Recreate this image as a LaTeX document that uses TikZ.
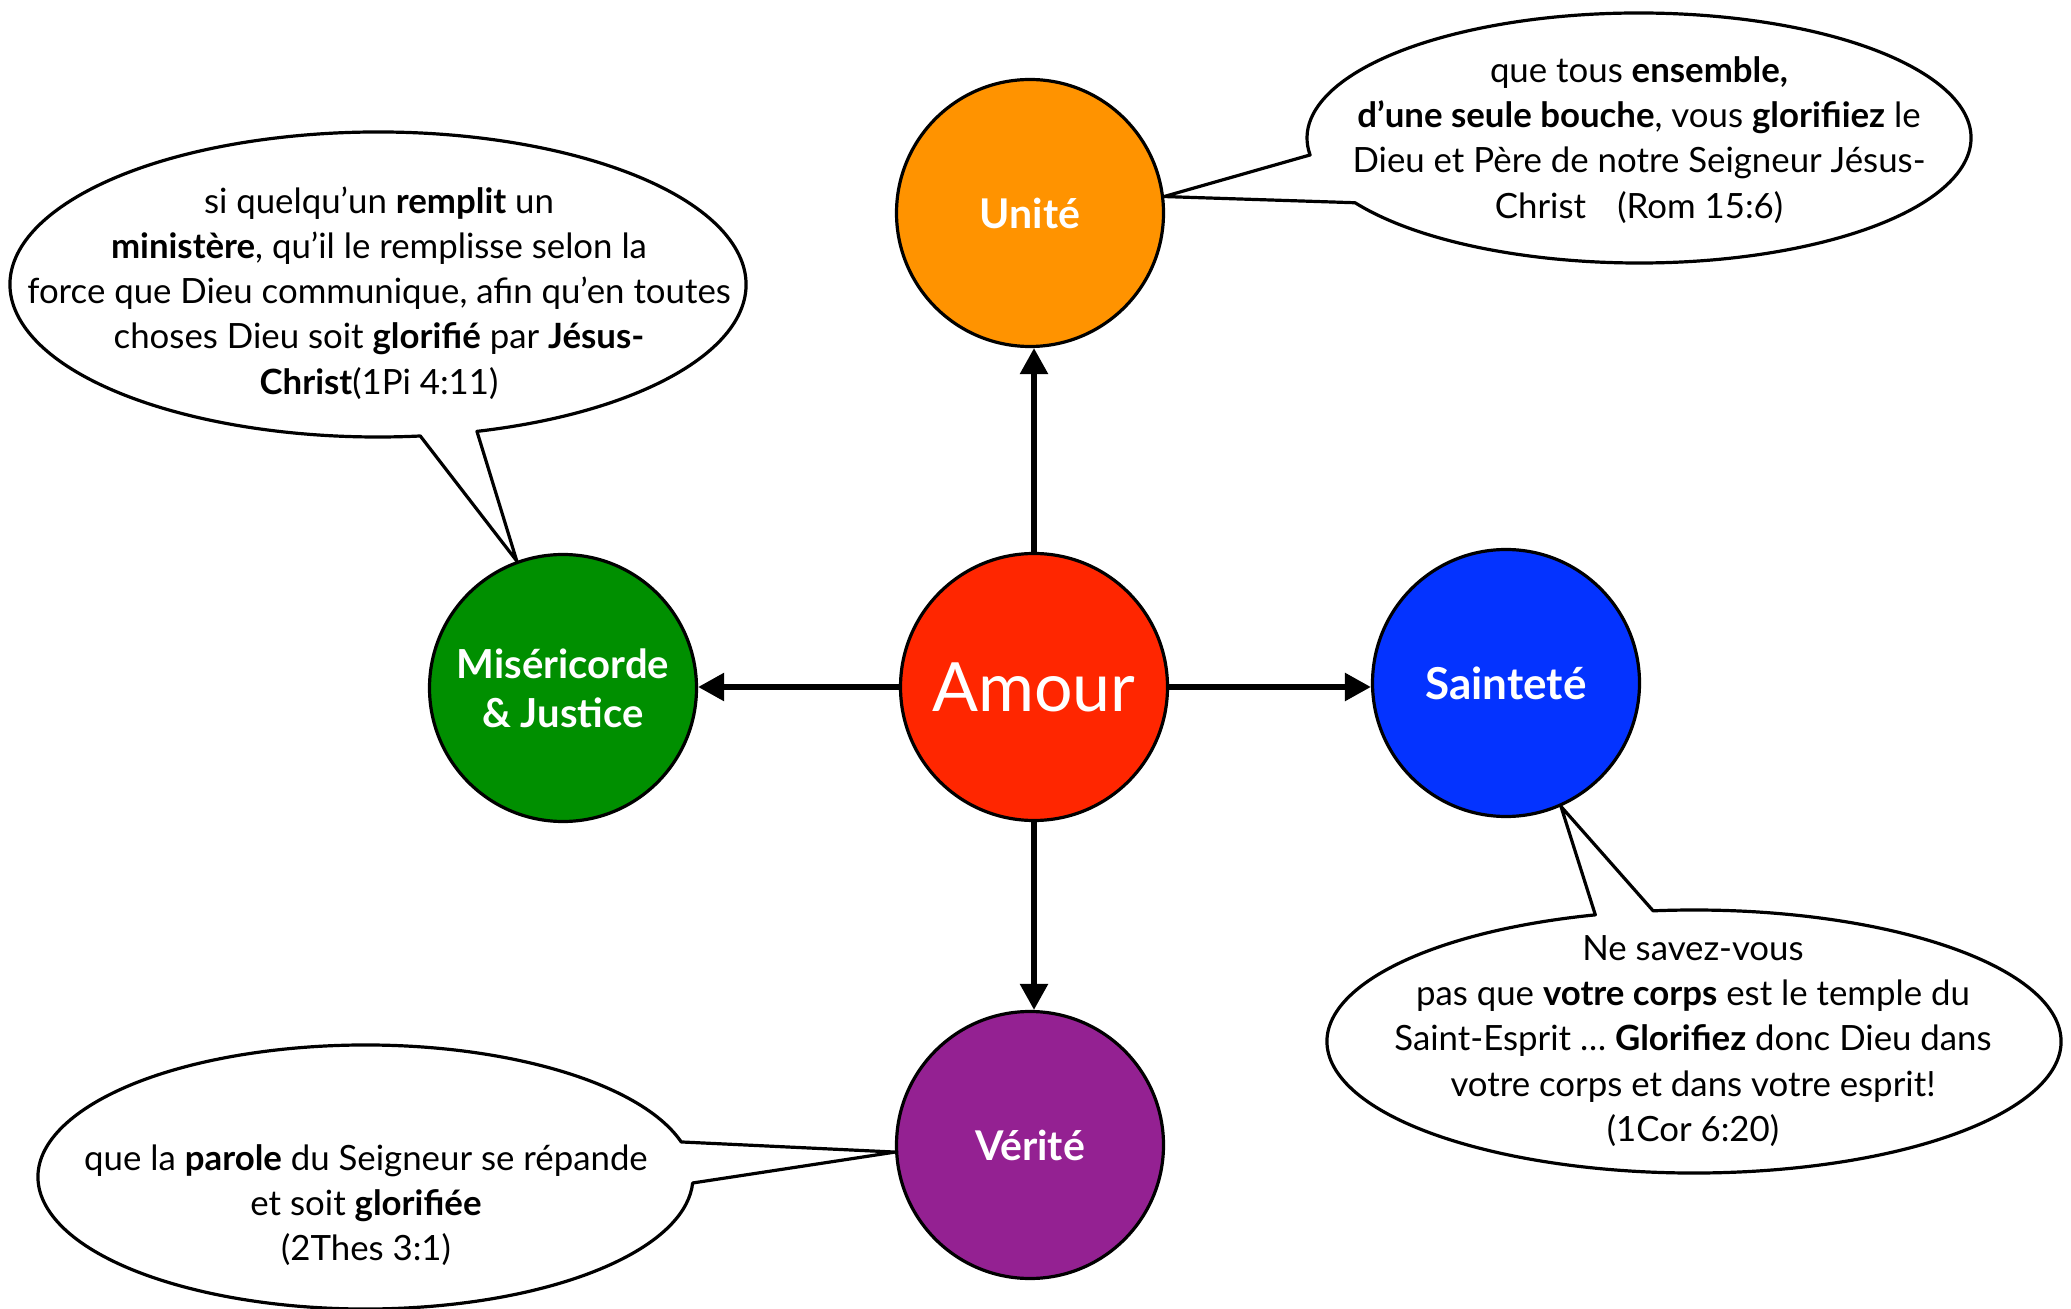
\documentclass[tikz,border=0pt]{standalone}
\usepackage{fontspec}
\setmainfont{Lato}
\usetikzlibrary{arrows.meta,backgrounds}
\definecolor{cOrange}{RGB}{255,147,0}
\definecolor{cRed}{RGB}{255,38,0}
\definecolor{cGreen}{RGB}{0,143,0}
\definecolor{cBlue}{RGB}{4,51,255}
\definecolor{cPurple}{RGB}{148,33,146}
\begin{document}
\begin{tikzpicture}[x=0.5pt,y=-0.5pt,
  virtue/.style={circle, draw=black, line width=1.6pt, minimum size=133.5pt, inner sep=0pt,
    text=white, font=\bfseries\fontsize{20.5}{24.5}\selectfont, align=center},
  link/.style={line width=2.8pt, -{Triangle[length=13pt,width=13.5pt]}},
  bubble/.style={draw=black, fill=white, line width=1.6pt, line join=round},
  verse/.style={align=center, font=\fontsize{17.4}{22.6}\selectfont, inner sep=0pt}]
\useasboundingbox (0,0) rectangle (2071,1309);

% virtues
\node[virtue, fill=cRed, font=\fontsize{34}{40}\selectfont] (amour) at (1034,687) {Amour};
\node[virtue, fill=cOrange] (unite) at (1030,213) {Unité};
\node[virtue, fill=cGreen, font=\bfseries\fontsize{20}{24.5}\selectfont] (mis) at (563,688) {Miséricorde\\\& Justice};
\node[virtue, fill=cBlue, font=\bfseries\fontsize{22}{24.5}\selectfont] (saint) at (1506,683) {Sainteté};
\node[virtue, fill=cPurple] (verite) at (1030,1145) {Vérité};

% arrows
\draw[link] (amour.north) -- (amour.north |- unite.south);
\draw[link] (amour.west) -- (amour.west -| mis.east);
\draw[link] (amour.east) -- (amour.east -| saint.west);
\draw[link] (amour.south) -- (amour.south |- verite.north);

% bubbles
\coordinate (b1) at (378,284.5);
\coordinate (b2) at (1639,138);
\coordinate (b3) at (1694,1041.5);
\coordinate (b4) at (365.5,1177);
\begin{scope}[on background layer]
\fill[white] (0,0) rectangle (2071,1309);
\draw[bubble] (mis.110) -- ([shift={(-74.4:184pt and 76.25pt)}]b1)
  arc[start angle=-74.4, end angle=276.6, x radius=184pt, y radius=76.25pt] -- cycle;
\draw[bubble] (unite.7) -- ([shift={(-148.8:166pt and 62.5pt)}]b2)
  arc[start angle=-148.8, end angle=187.8, x radius=166pt, y radius=62.5pt] -- cycle;
\draw[bubble] (saint.-66) -- ([shift={(105.6:183.5pt and 65.75pt)}]b3)
  arc[start angle=105.6, end angle=456.4, x radius=183.5pt, y radius=65.75pt] -- cycle;
\draw[bubble] (verite.183) -- ([shift={(15.4:163.75pt and 66pt)}]b4)
  arc[start angle=15.4, end angle=357.4, x radius=163.75pt, y radius=66pt] -- cycle;
\end{scope}

% verses
\node[verse] (t1) at (379,293) {si quelqu’un \textbf{remplit} un\\ \textbf{ministère}, qu’il le remplisse selon la\\ force que Dieu communique, afin qu’en toutes\\ choses Dieu soit \textbf{glorifié} par \textbf{Jésus-}\\ \textbf{Christ}(1Pi 4:11)};
\node[verse] (t2) at (1639,140) {que tous \textbf{ensemble,}\\ \textbf{d’une seule bouche}, vous \textbf{glorifiiez} le\\ Dieu et Père de notre Seigneur Jésus-\\ Christ\hspace{0.9em}(Rom 15:6)};
\node[verse] (t3) at (1693,1041) {Ne savez-vous\\ pas que \textbf{votre corps} est le temple du\\ Saint-Esprit … \textbf{Glorifiez} donc Dieu dans\\ votre corps et dans votre esprit!\\ (1Cor 6:20)};
\node[verse] (t4) at (366,1205) {que la \textbf{parole} du Seigneur se répande\\ et soit \textbf{glorifiée}\\ (2Thes 3:1)};
\end{tikzpicture}
\end{document}
